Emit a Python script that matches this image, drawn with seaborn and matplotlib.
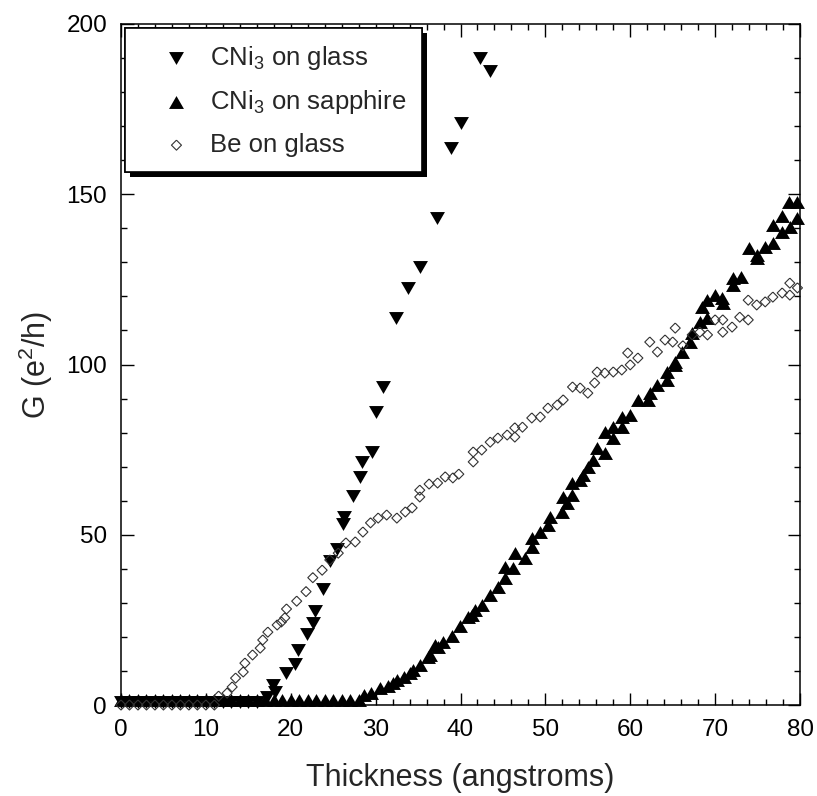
import numpy as np
import matplotlib
matplotlib.use("Agg")
import matplotlib.pyplot as plt
import matplotlib.patheffects as pe
from matplotlib.ticker import MultipleLocator
import seaborn as sns

# ---------------- data ----------------
glass_x = [0, 1, 2, 3, 4, 5, 6, 7, 8, 9, 10, 11, 12, 13, 14, 15, 16,
           17.2, 17.9, 18.1, 19.4, 20.5, 20.8, 21.9, 22.6, 22.8, 23.8, 24.6,
           25.5, 26.2, 26.3, 27.3, 28.2, 28.4, 29.6, 30.0, 30.9, 32.4, 33.8,
           35.2, 37.2, 38.9, 40.0, 42.3, 43.5]
glass_y = [0.8] * 17 + [2.4, 5.9, 3.8, 9.4, 11.9, 16.2, 20.9, 24.1, 27.5, 34.2, 42.2,
                        45.9, 53.3, 55.2, 61.5, 67.0, 71.4, 74.3, 86.0, 93.4, 113.7, 122.5,
                        128.6, 143.0, 163.6, 170.9, 190.0, 186.2]

sapph_x = [0, 1, 2, 3, 4, 5, 6, 7, 8, 9, 10, 11, 12, 13, 14, 15, 16, 17, 18, 19,
           20, 21, 22, 23, 24, 25, 26, 27, 28,
           28.6, 29.5, 30.5, 31.4, 32.0, 32.5, 33.4, 34.0, 34.4, 35.2, 36.2, 36.4,
           37.0, 37.3, 37.9, 39.0, 39.9, 40.9, 41.3, 41.7, 42.5, 43.5, 44.4, 45.2,
           45.2, 46.2, 46.4, 47.6, 48.4, 48.4, 49.4, 50.3, 50.5, 51.9, 52.1, 52.5,
           53.1, 53.1, 54.1, 54.4, 55.0, 55.6, 56.1, 57.0, 57.0, 58.0, 58.0, 59.0,
           59.0, 60.0, 60.9, 62.1, 62.3, 63.2, 64.3, 64.3, 65.3, 65.3, 66.1, 67.0,
           67.3, 68.2, 68.4, 69.1, 69.1, 70.0, 70.8, 70.9, 72.1, 72.1, 73.0, 74.0,
           74.9, 74.9, 75.9, 76.8, 76.8, 77.9, 77.9, 78.8, 78.7, 79.6, 79.6]
sapph_y = [1.5] * 29 + [2.9, 3.6, 5.0, 5.6, 6.5, 7.3, 8.2, 9.5, 10.3, 11.7, 14.1, 14.7,
                        17.6, 17.0, 18.5, 20.3, 23.2, 25.8, 26.4, 27.9, 29.4, 32.3, 34.7,
                        37.3, 40.5, 40.2, 44.6, 43.2, 46.4, 49.0, 50.8, 52.9, 55.2, 56.7,
                        61.1, 59.3, 61.7, 65.2, 66.1, 67.5, 69.9, 72.0, 75.5, 74.0, 80.2,
                        78.4, 81.6, 81.6, 84.6, 85.2, 89.6, 89.6, 91.6, 94.0, 95.4, 97.8,
                        99.9, 100.7, 103.7, 106.6, 109.2, 112.5, 116.9, 113.7, 118.9, 120.4,
                        119.5, 118.1, 123.3, 125.4, 125.7, 134.2, 132.2, 131.3, 134.5, 135.7,
                        141.0, 138.9, 143.6, 140.4, 147.7, 147.7, 143.0]

be_x = [0, 1, 2, 3, 4, 5, 6, 7, 8, 9, 10, 11,
        11.5, 12.5, 13.1, 13.5, 14.4, 14.6, 15.5, 16.4, 16.7, 17.3, 18.4, 18.9, 19.3,
        19.5, 20.7, 21.8, 22.6, 23.7, 24.6, 25.6, 26.5, 27.6, 28.5, 29.4, 30.3, 31.3,
        32.5, 33.5, 34.3, 35.2, 35.2, 36.3, 37.3, 38.2, 39.1, 39.8, 41.5, 41.5, 42.5,
        43.5, 44.4, 45.5, 46.4, 46.4, 47.3, 48.4, 49.4, 50.3, 51.4, 52.1, 53.2, 54.1,
        55.0, 55.8, 56.1, 57.0, 58.0, 59.0, 59.7, 60.0, 60.9, 62.3, 63.2, 64.1, 65.0,
        65.3, 66.2, 67.3, 68.2, 69.1, 70.0, 70.9, 70.9, 72.0, 72.9, 73.9, 73.9, 74.9,
        75.9, 76.8, 77.9, 78.8, 78.8, 79.7]
be_y = [0.0] * 12 + [2.6, 3.5, 5.3, 7.9, 9.7, 12.3, 14.7, 16.7, 19.1, 21.4, 23.5, 24.4, 25.6,
                     28.2, 30.5, 33.3, 37.4, 39.6, 42.6, 44.6, 47.6, 47.9, 50.8, 53.5, 54.9, 55.8,
                     54.9, 56.7, 57.9, 61.1, 63.1, 64.9, 65.2, 67.0, 66.7, 67.8, 71.4, 74.3, 74.9,
                     77.2, 78.4, 79.3, 81.4, 78.7, 81.6, 84.3, 84.6, 87.2, 88.1, 89.6, 93.4, 93.1,
                     91.6, 94.6, 97.8, 97.5, 97.8, 98.4, 103.4, 99.9, 101.9, 106.6, 103.7, 107.2, 106.6,
                     110.7, 105.5, 108.7, 109.5, 108.7, 113.1, 113.1, 109.5, 111.0, 113.9, 113.1, 118.9, 117.5,
                     118.4, 119.8, 121.0, 120.4, 123.9, 122.5]

labels = ["CNi$_3$ on glass", "CNi$_3$ on sapphire", "Be on glass"]
x_ticks = [0, 10, 20, 30, 40, 50, 60, 70, 80]
y_ticks = [0, 50, 100, 150, 200]

# ---------------- style ----------------
sns.set_style("ticks")
plt.rcParams["font.family"] = ["Liberation Sans", "DejaVu Sans"]
plt.rcParams["mathtext.fontset"] = "custom"
plt.rcParams["mathtext.rm"] = "Liberation Sans"
plt.rcParams["mathtext.it"] = "Liberation Sans:italic"
plt.rcParams["mathtext.default"] = "regular"

fig = plt.figure(figsize=(8.17, 7.96), dpi=100)
ax = fig.add_axes([121 / 817, 1 - 705 / 796, 679 / 817, 681 / 796])

tri_down = [(-1, 0.866), (1, 0.866), (0, -0.866), (-1, 0.866)]
tri_up = [(-1, -0.866), (1, -0.866), (0, 0.866), (-1, -0.866)]
diamond = [(0, 1), (1, 0), (0, -1), (-1, 0), (0, 1)]

sns.scatterplot(x=glass_x, y=glass_y, marker=tri_down, s=115, color="black",
                edgecolor="black", linewidth=0, ax=ax, label=labels[0],
                clip_on=False, zorder=3, legend=False)
sns.scatterplot(x=sapph_x, y=sapph_y, marker=tri_up, s=115, color="black",
                edgecolor="black", linewidth=0, ax=ax, label=labels[1],
                clip_on=False, zorder=3, legend=False)
sns.scatterplot(x=be_x, y=be_y, marker=diamond, s=52, color="#333333",
                facecolor="none", edgecolor="#333333", linewidth=0.8, ax=ax,
                label=labels[2], clip_on=False, zorder=4, legend=False)

ax.set_xlim(0, 80)
ax.set_ylim(0, 200)
ax.set_xticks(x_ticks)
ax.set_yticks(y_ticks)
ax.xaxis.set_minor_locator(MultipleLocator(2))
ax.yaxis.set_minor_locator(MultipleLocator(10))
ax.tick_params(which="both", direction="in", top=True, right=True, width=1,
               colors="black", labelsize=17.5, pad=10)
ax.tick_params(which="major", length=9)
ax.tick_params(which="minor", length=4.5)
for sp in ax.spines.values():
    sp.set_linewidth(1.1)
    sp.set_color("black")

ax.set_xlabel("Thickness (angstroms)", fontsize=22)
ax.set_ylabel("G (e$^2$/h)", fontsize=22)
ax.xaxis.set_label_coords(0.5, -0.085)
ax.yaxis.set_label_coords(-0.097, 0.5)

handles, labs = ax.get_legend_handles_labels()
leg = ax.legend(handles, labs, loc="upper left", bbox_to_anchor=(0.006, 0.994),
                borderaxespad=0, fontsize=18.5, frameon=True, fancybox=False,
                edgecolor="black", framealpha=1, borderpad=0.6,
                handlelength=2.8, handletextpad=-0.1, labelspacing=0.65,
                scatterpoints=1)
leg.get_frame().set_linewidth(1.2)
leg.get_frame().set_path_effects([
    pe.withSimplePatchShadow(offset=(3.6, -3.6), shadow_rgbFace="black", alpha=1.0),
    pe.Normal()])
leg.set_zorder(10)

fig.savefig("out.png", dpi=100)
